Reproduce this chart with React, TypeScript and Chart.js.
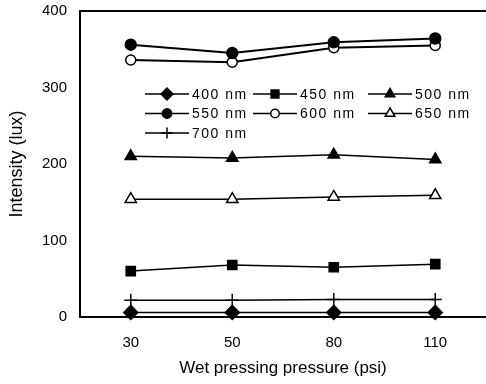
import React, { useEffect, useRef } from 'react';
import { Chart, registerables } from 'chart.js';
import { drawPoint } from 'chart.js/helpers';

Chart.register(...registerables);

const categories = ['30', '50', '80', '110'];
const s400 = [6, 6, 6, 6];
const s450 = [60, 68, 65, 69];
const s500 = [210, 208, 212, 206];
const s550 = [356, 345, 359, 364];
const s600 = [336, 333, 352, 355];
const s650 = [154, 154, 157, 159];
const s700 = [22, 22, 23, 23];
const yTicks = [0, 100, 200, 300, 400];

const FONT = '"Liberation Sans", Arial, sans-serif';

type Series = { label: string; data: number[]; style: string; fill: string; radius: number; width: number };
const seriesList: Series[] = [
  { label: '400 nm', data: s400, style: 'rectRot', fill: '#000', radius: 7, width: 1.5 },
  { label: '450 nm', data: s450, style: 'rect', fill: '#000', radius: 6.5, width: 1.5 },
  { label: '500 nm', data: s500, style: 'triangle', fill: '#000', radius: 6.5, width: 1.5 },
  { label: '550 nm', data: s550, style: 'circle', fill: '#000', radius: 5.5, width: 2 },
  { label: '600 nm', data: s600, style: 'circle', fill: '#fff', radius: 5, width: 2 },
  { label: '650 nm', data: s650, style: 'triangle', fill: '#fff', radius: 6.5, width: 1.5 },
  { label: '700 nm', data: s700, style: 'cross', fill: '#000', radius: 6.5, width: 1.5 },
];

const frameAndLegend = {
  id: 'frameAndLegend',
  afterDraw(chart: any) {
    const ctx = chart.ctx;
    const { left, right, top } = chart.chartArea;
    ctx.save();
    ctx.strokeStyle = '#000';
    ctx.lineWidth = 2;
    ctx.beginPath();
    ctx.moveTo(left - 1, top);
    ctx.lineTo(right, top);
    ctx.stroke();

    // legend
    const colX = [145, 253, 368];
    const rowY = [94, 113.5, 133];
    const lineLen = 44;
    ctx.font = '14px ' + FONT;
    (ctx as any).letterSpacing = '1.5px';
    ctx.textBaseline = 'middle';
    ctx.textAlign = 'left';
    ctx.fillStyle = '#000';
    seriesList.forEach((s, i) => {
      const x = colX[i % 3];
      const y = rowY[Math.floor(i / 3)];
      ctx.strokeStyle = '#000';
      ctx.lineWidth = 1.5;
      ctx.beginPath();
      ctx.moveTo(x, y);
      ctx.lineTo(x + lineLen, y);
      ctx.stroke();
      ctx.fillStyle = s.fill;
      ctx.strokeStyle = '#000';
      ctx.lineWidth = 1.5;
      drawPoint(ctx, { pointStyle: s.style as any, radius: s.radius * 0.85, rotation: 0, borderWidth: 1.5 } as any, x + lineLen / 2, y);
      ctx.fillStyle = '#000';
      ctx.fillText(s.label, x + lineLen + 3, y + 1);
    });
    (ctx as any).letterSpacing = '0px';
    ctx.restore();
  },
};

const zeroPad = () => ({ left: 0, right: 0, top: 0, bottom: 0 });

export default function App() {
  const ref = useRef<HTMLCanvasElement>(null);
  useEffect(() => {
    if (!ref.current) return;
    const chart = new Chart(ref.current, {
      type: 'line',
      data: {
        labels: categories,
        datasets: seriesList.map((s) => ({
          label: s.label,
          data: s.data,
          borderColor: '#000',
          borderWidth: s.width,
          backgroundColor: s.fill,
          pointStyle: s.style as any,
          pointRadius: s.radius,
          pointBorderColor: '#000',
          pointBackgroundColor: s.fill,
          pointBorderWidth: 1.5,
          tension: 0,
          fill: false,
          clip: false as any,
        })),
      },
      options: {
        responsive: false,
        animation: false,
        layout: { autoPadding: false, padding: { top: 11, right: -2, left: 0, bottom: 0 } },
        plugins: { legend: { display: false }, tooltip: { enabled: false } },
        scales: {
          x: {
            type: 'category',
            offset: true,
            grid: {
              display: true,
              drawOnChartArea: false,
              drawTicks: true,
              tickLength: 17,
              tickColor: 'rgba(0,0,0,0)',
            },
            border: { display: true, color: '#000', width: 2 },
            ticks: { color: '#000', font: { family: FONT, size: 15 }, padding: 0 },
            title: {
              display: true,
              text: 'Wet pressing pressure (psi)',
              color: '#000',
              font: { family: FONT, size: 17 },
              padding: { top: 0, bottom: 5 },
            },
            afterFit: (scale: any) => {
              scale.height = 67;
              scale.paddingLeft = 0;
              scale.paddingRight = 0;
              scale.getPadding = zeroPad;
            },
          },
          y: {
            min: 0,
            max: 400,
            afterBuildTicks: (scale: any) => {
              scale.ticks = yTicks.map((v) => ({ value: v }));
            },
            grid: { display: false, drawTicks: false },
            border: { display: true, color: '#000', width: 2 },
            ticks: { color: '#000', font: { family: FONT, size: 15 }, padding: 13 },
            title: {
              display: true,
              text: 'Intensity (lux)',
              color: '#000',
              font: { family: FONT, size: 18 },
              padding: { top: 6, bottom: 0 },
            },
            afterFit: (scale: any) => {
              scale.width = 80;
              scale.paddingTop = 0;
              scale.paddingBottom = 0;
              scale.getPadding = zeroPad;
            },
          },
        },
      },
      plugins: [frameAndLegend],
    });
    return () => chart.destroy();
  }, []);
  return (
    <div style={{ position: 'fixed', left: 0, top: 0, width: 486, height: 384, background: '#fff' }}>
      <canvas ref={ref} width={486} height={384} style={{ display: 'block' }} />
    </div>
  );
}
